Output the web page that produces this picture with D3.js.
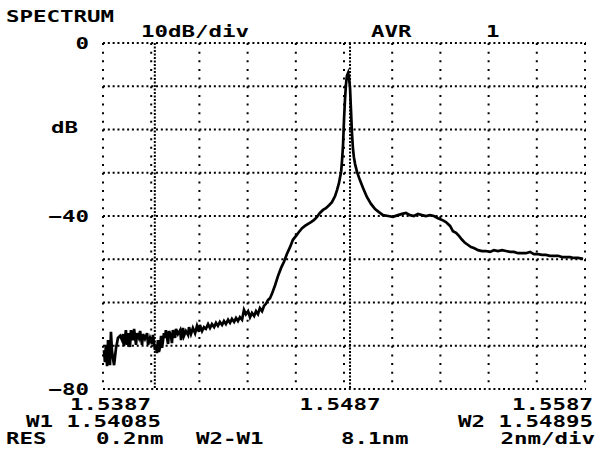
<!DOCTYPE html>
<html>
<head>
<meta charset="utf-8">
<script src="https://cdn.jsdelivr.net/npm/d3@7"></script>
<style>
  body { margin: 0; background: #fff; }
  svg { display: block; }
  text { font-family: "DejaVu Sans Mono", monospace; font-weight: bold; font-size: 16px; fill: #000; }
</style>
</head>
<body>
<script>
const w = 611, h = 454;

// wavelength in nm, level in dB
const wavelength = [
  1538.74, 1538.78, 1538.82, 1538.87, 1538.91, 1538.99, 1539.03, 1539.07, 1539.11, 1539.16,
  1539.24, 1539.28, 1539.32, 1539.41, 1539.49, 1539.53, 1539.57, 1539.65, 1539.70, 1539.74,
  1539.82, 1539.86, 1539.94, 1539.99, 1540.07, 1540.11, 1540.19, 1540.24, 1540.32, 1540.36,
  1540.44, 1540.53, 1540.57, 1540.65, 1540.73, 1540.77, 1540.86, 1540.90, 1540.94, 1540.98,
  1541.02, 1541.07, 1541.11, 1541.15, 1541.23, 1541.27, 1541.31, 1541.40, 1541.44, 1541.52,
  1541.56, 1541.60, 1541.69, 1541.73, 1541.81, 1541.90, 1541.94, 1542.02, 1542.06, 1542.14,
  1542.23, 1542.27, 1542.35, 1542.43, 1542.52, 1542.60, 1542.68, 1542.72, 1542.81, 1542.89,
  1542.97, 1543.06, 1543.14, 1543.22, 1543.31, 1543.39, 1543.47, 1543.55, 1543.64, 1543.72,
  1543.80, 1543.89, 1543.97, 1544.05, 1544.14, 1544.22, 1544.30, 1544.38, 1544.47, 1544.55,
  1544.63, 1544.72, 1544.80, 1544.88, 1544.97, 1545.05, 1545.13, 1545.21, 1545.30, 1545.38,
  1545.46, 1545.55, 1545.63, 1545.71, 1545.84, 1545.96, 1546.09, 1546.21, 1546.33, 1546.46,
  1546.58, 1546.71, 1546.83, 1546.96, 1547.08, 1547.21, 1547.33, 1547.46, 1547.58, 1547.70,
  1547.83, 1547.95, 1548.08, 1548.20, 1548.33, 1548.41, 1548.49, 1548.58, 1548.62, 1548.66,
  1548.70, 1548.74, 1548.78, 1548.82, 1548.87, 1548.91, 1548.95, 1548.99, 1549.03, 1549.07,
  1549.11, 1549.16, 1549.24, 1549.36, 1549.49, 1549.65, 1549.82, 1549.99, 1550.15, 1550.32,
  1550.53, 1550.73, 1550.94, 1551.11, 1551.27, 1551.44, 1551.60, 1551.77, 1551.94, 1552.10,
  1552.27, 1552.43, 1552.60, 1552.77, 1552.93, 1553.10, 1553.22, 1553.35, 1553.47, 1553.60,
  1553.72, 1553.85, 1553.97, 1554.09, 1554.26, 1554.43, 1554.59, 1554.76, 1554.92, 1555.09,
  1555.26, 1555.42, 1555.59, 1555.75, 1555.92, 1556.09, 1556.25, 1556.42, 1556.58, 1556.75,
  1556.92, 1557.08, 1557.25, 1557.41, 1557.58, 1557.75, 1557.91, 1558.08, 1558.24, 1558.41,
  1558.62
];
const level = [
  -71.0, -73.8, -69.8, -74.7, -68.7, -74.5, -66.8, -71.0, -72.8, -74.5,
  -70.5, -69.4, -68.2, -67.7, -68.7, -67.3, -70.1, -66.4, -69.8, -67.1,
  -70.3, -66.4, -68.7, -66.1, -69.8, -67.1, -68.2, -66.6, -69.8, -67.3,
  -68.4, -67.1, -69.8, -68.2, -69.6, -67.5, -71.0, -69.8, -71.7, -68.7,
  -71.4, -70.3, -67.7, -70.5, -67.1, -68.2, -66.4, -69.6, -66.6, -67.7,
  -69.4, -66.4, -68.2, -66.1, -67.3, -66.4, -68.7, -65.9, -67.7, -66.6,
  -67.5, -65.7, -67.3, -65.9, -67.1, -65.4, -66.8, -65.2, -66.6, -65.7,
  -66.1, -65.0, -65.9, -65.0, -65.7, -64.7, -65.4, -64.5, -65.2, -64.3,
  -65.0, -64.0, -64.7, -63.8, -64.5, -63.6, -64.3, -63.4, -64.0, -61.7,
  -62.7, -62.0, -63.4, -62.4, -63.1, -62.0, -62.7, -61.3, -62.0, -60.8,
  -60.3, -59.4, -59.0, -58.0, -56.0, -53.9, -52.0, -50.6, -48.8, -47.2,
  -45.5, -44.6, -43.7, -42.8, -42.3, -41.8, -41.4, -40.9, -40.2, -39.3,
  -38.6, -38.2, -37.5, -36.8, -35.4, -34.0, -32.4, -29.8, -27.1, -23.6,
  -17.8, -13.2, -9.7, -7.6, -6.9, -8.1, -10.4, -15.5, -20.8, -24.3,
  -26.4, -28.0, -29.8, -31.7, -33.5, -35.6, -37.2, -38.4, -39.1, -39.8,
  -40.0, -40.2, -39.8, -39.5, -39.3, -39.8, -40.0, -39.5, -39.8, -40.0,
  -39.8, -40.0, -40.5, -40.9, -41.4, -42.3, -43.5, -43.9, -44.6, -45.5,
  -46.2, -46.7, -47.2, -47.4, -47.9, -48.1, -48.1, -48.3, -47.9, -48.1,
  -47.9, -48.1, -48.3, -48.3, -48.6, -48.6, -48.6, -48.3, -48.8, -48.8,
  -49.0, -49.0, -49.2, -49.2, -49.2, -49.5, -49.5, -49.5, -49.7, -49.7,
  -49.9
];

const xTicks = [1538.7, 1548.7, 1558.7];
const xTickLabels = ['1.5387', '1.5487', '1.5587'];
const yTicks = [0, -40, -80];
const markers = [1540.85, 1548.95]; // W1, W2

const plot = {left: 103, right: 585, top: 43, bottom: 389};
const charW = 13.5;

const x = d3.scaleLinear().domain([1538.7, 1558.7]).range([plot.left, plot.right]);
const y = d3.scaleLinear().domain([0, -80]).range([plot.top, plot.bottom]);

const root = d3.select('body').append('svg')
  .attr('width', w).attr('height', h);

root.append('rect').attr('width', w).attr('height', h).attr('fill', '#fff');

// grid: horizontal dotted lines every 10 dB
const g = root.append('g');
g.selectAll('.hl')
  .data(d3.range(0, -81, -10))
  .enter().append('line')
  .attr('x1', plot.left).attr('x2', plot.right + 1)
  .attr('y1', d => y(d)).attr('y2', d => y(d))
  .attr('stroke', '#000').attr('stroke-width', 2)
  .attr('stroke-dasharray', '2,2.82');

// vertical dotted lines every 2 nm
g.selectAll('.vl')
  .data(d3.range(1538.7, 1558.75, 2))
  .enter().append('line')
  .attr('x1', d => x(d)).attr('x2', d => x(d))
  .attr('y1', plot.top).attr('y2', plot.bottom)
  .attr('stroke', '#000').attr('stroke-width', 2)
  .attr('stroke-dasharray', '2,6.65');

// marker lines W1 / W2
g.selectAll('.mk')
  .data(markers)
  .enter().append('line')
  .attr('x1', d => x(d)).attr('x2', d => x(d))
  .attr('y1', plot.top).attr('y2', plot.bottom)
  .attr('stroke', '#000').attr('stroke-width', 2)
  .attr('stroke-dasharray', '2,1.5');

// spectrum trace
const pts = wavelength.map((d, i) => [d, level[i]]);
const lineFun = d3.line()
  .x(d => x(d[0]))
  .y(d => y(d[1]))
  .curve(d3.curveLinear);

root.append('path')
  .attr('d', lineFun(pts))
  .attr('fill', 'none')
  .attr('stroke', '#000')
  .attr('stroke-width', 2.7)
  .attr('stroke-linejoin', 'miter');

// text helper, fixed-pitch wide font
function label(str, px, py, anchor) {
  const len = str.length * charW;
  let x0 = px;
  if (anchor === 'end') x0 = px - len;
  if (anchor === 'middle') x0 = px - len / 2;
  root.append('text')
    .attr('x', x0).attr('y', py)
    .attr('textLength', len)
    .attr('lengthAdjust', 'spacingAndGlyphs')
    .text(str);
}

label('SPECTRUM', 6, 22);
label('10dB/div', 141, 37);
label('AVR', 371, 37);
label('1', 486, 37);
label('dB', 51, 133);

yTicks.forEach(d => label(String(d).replace('-', '\u2212'), 89, y(d) + 6, 'end'));

label(xTickLabels[0], x(xTicks[0]) - 33, 410);
label(xTickLabels[1], x(xTicks[1]) - 4, 410, 'middle');
label(xTickLabels[2], x(xTicks[2]) + 8, 410, 'end');

label('W1 1.54085', 26, 427);
label('W2 1.54895', 593, 427, 'end');
label('RES', 6, 444);
label('0.2nm', 96, 444);
label('W2-W1', 196, 444);
label('8.1nm', 341, 444);
label('2nm/div', 595, 444, 'end');
</script>
</body>
</html>
